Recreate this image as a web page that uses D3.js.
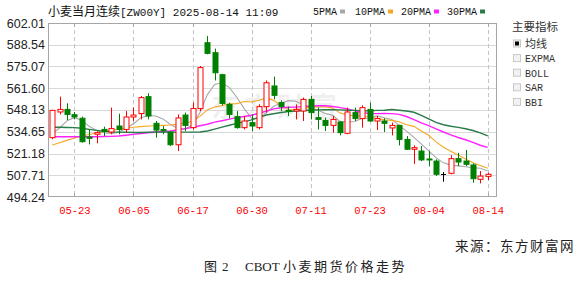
<!DOCTYPE html>
<html><head><meta charset="utf-8">
<script src="https://cdn.jsdelivr.net/npm/d3@7/dist/d3.min.js"></script>
<style>html,body{margin:0;padding:0;background:#fff;}svg{display:block;}</style>
</head><body>
<svg id="c" width="580" height="300"></svg>
<script>
const dates=["05-20","05-21","05-22","05-23","05-27","05-28","05-29","05-30","06-02","06-03","06-04","06-05","06-06","06-09","06-10","06-11","06-12","06-13","06-16","06-17","06-18","06-20","06-23","06-24","06-25","06-26","06-27","06-30","07-01","07-02","07-03","07-07","07-08","07-09","07-10","07-11","07-14","07-15","07-16","07-17","07-18","07-21","07-22","07-23","07-24","07-25","07-28","07-29","07-30","07-31","08-01","08-04","08-05","08-06","08-07","08-08","08-11","08-12","08-13","08-14"];
const open=[531.0,546.9,548.5,545.2,543.0,531.4,533.1,536.1,534.5,538.2,536.1,543.8,545.9,556.4,539.9,536.0,534.5,526.6,545.0,537.2,549.0,589.8,583.6,570.0,551.6,544.0,537.2,540.3,537.2,550.2,563.0,552.7,547.9,547.5,547.5,554.7,543.4,541.7,538.6,540.7,533.7,546.5,542.8,548.5,541.3,541.3,537.0,538.6,529.9,523.8,522.7,517.8,516.5,508.3,508.9,518.0,516.5,514.1,505.2,507.0];
const high=[548.2,556.4,552.3,546.9,544.0,536.1,534.9,537.8,549.6,545.8,547.5,549.6,556.8,558.5,541.3,538.2,535.1,545.4,546.5,552.7,575.4,594.0,586.1,570.6,552.7,547.5,544.4,545.4,551.6,566.4,568.8,554.1,550.2,551.6,555.8,556.8,549.6,543.4,544.4,541.3,549.6,549.6,551.0,552.7,544.4,543.0,540.3,539.0,532.0,526.2,525.8,522.7,517.6,509.7,520.1,521.6,523.4,515.1,510.3,509.3];
const low=[530.0,545.4,541.9,542.3,527.9,526.8,527.5,532.0,533.1,533.1,534.1,541.3,542.3,542.3,531.0,533.1,525.8,522.7,535.1,536.1,547.5,582.6,566.4,551.0,542.8,536.6,536.1,535.1,536.1,546.5,554.7,547.5,544.4,542.3,541.3,542.3,536.1,535.1,534.1,532.4,533.1,541.3,537.2,540.9,535.7,534.5,532.4,526.2,523.4,514.7,516.5,513.4,507.2,503.7,508.3,513.4,513.4,503.1,502.7,504.7];
const close=[547.9,548.5,545.4,543.8,528.5,530.6,534.1,534.9,536.6,536.1,543.8,545.0,555.8,544.4,535.7,535.3,526.6,543.2,538.6,549.0,574.4,583.2,571.2,552.2,545.4,537.2,541.3,538.2,550.2,565.0,557.2,550.2,547.3,548.5,554.7,546.5,542.3,538.6,542.3,534.1,546.9,542.8,549.6,541.3,542.8,539.9,538.6,529.9,523.8,524.8,517.2,517.2,508.3,508.3,518.0,515.9,514.5,505.6,507.2,508.3];
const ma5=[533.5,537.0,541.5,543.4,541.8,538.0,535.5,534.0,533.4,534.4,536.8,539.6,543.3,544.7,544.4,542.6,539.2,536.8,536.2,539.0,546.4,557.5,564.0,565.0,562.0,556.0,549.0,543.0,542.6,546.4,550.4,552.3,553.9,553.5,551.6,549.5,547.9,546.0,544.8,540.9,540.8,541.0,543.0,543.0,544.5,543.3,542.3,538.6,535.0,531.2,527.2,522.8,518.6,515.4,514.0,513.5,513.0,512.4,512.0,510.4];
const ma10=[526.5,527.9,529.3,530.8,532.2,533.0,533.9,534.7,535.5,536.2,536.8,537.4,537.8,538.2,538.4,538.6,538.8,539.2,539.9,541.2,544.2,548.2,550.0,550.9,551.9,552.1,553.4,553.1,554.2,555.6,554.1,550.8,548.4,548.1,549.0,549.9,550.0,550.1,549.3,546.2,545.1,544.4,544.6,543.9,542.7,542.1,541.7,540.8,539.0,538.0,535.1,532.5,528.4,525.1,522.6,520.2,517.8,515.4,513.7,512.1];
const ma20=[531.6,531.6,531.6,531.6,531.6,531.6,531.6,531.7,531.8,532.0,532.5,533.0,533.6,534.0,534.5,534.8,535.1,535.8,536.6,537.4,538.4,539.3,540.6,541.5,542.5,543.4,544.1,544.9,546.1,547.4,548.8,549.5,549.8,549.9,550.2,550.6,550.8,550.8,550.3,549.6,548.8,547.6,546.5,546.0,545.9,546.0,545.9,545.4,544.1,542.1,540.1,538.5,536.5,534.5,532.7,531.1,529.7,528.1,526.3,525.0];
const ma30=[537.4,537.4,537.3,537.2,536.8,536.1,535.5,535.0,534.6,534.4,534.3,534.2,534.2,534.3,534.4,534.4,534.4,534.4,534.4,534.4,534.5,535.1,536.3,537.5,538.7,539.8,540.8,542.0,543.6,545.0,545.8,546.6,547.1,547.5,547.8,548.0,548.2,548.3,548.3,548.2,548.0,547.9,547.7,547.6,547.9,548.0,548.4,548.0,547.5,546.7,544.8,542.6,540.5,539.0,538.1,537.4,536.5,535.4,534.0,532.1];
const xTickLabels=["05-23","06-05","06-17","06-30","07-11","07-23","08-04","08-14"];
const yTickLabels=["494.24","507.71","521.18","534.65","548.13","561.60","575.07","588.54","602.01"];
const maNames=["5PMA","10PMA","20PMA","30PMA"];
const maColors=["#a8a8a8","#f5a623","#ff22ff","#2a7a4a"];
const indicators=["均线","EXPMA","BOLL","SAR","BBI"];

const svg=d3.select("#c");
const L=48,R=497,T=23,B=197;
const x=d3.scaleLinear().domain([-0.58,60.26]).range([L,R]);
const y=d3.scaleLinear().domain([494.24,602.01]).range([B,T]);
const yTicks=yTickLabels.map(Number);
const tickIdx=xTickLabels.map(s=>dates.indexOf(s));

// watermark
svg.append("text").attr("x",x(21.5)).attr("y",y(544)).attr("font-family","Noto Sans CJK SC").attr("font-weight","bold")
  .attr("font-size",27).attr("fill","#000").attr("fill-opacity",0.08).attr("letter-spacing",6).text("东方财富");

// horizontal grid
svg.append("g").selectAll("line").data(yTicks.slice(1,-1)).join("line")
  .attr("x1",L).attr("x2",R).attr("y1",d=>Math.round(y(d))+0.5).attr("y2",d=>Math.round(y(d))+0.5)
  .attr("stroke","#d9d9d9").attr("stroke-width",1);
// vertical dashed grid
svg.append("g").selectAll("line").data(tickIdx).join("line")
  .attr("x1",d=>Math.round(x(d))+0.5).attr("x2",d=>Math.round(x(d))+0.5).attr("y1",T).attr("y2",B)
  .attr("stroke","#c4c4c4").attr("stroke-dasharray","4,3");
// border
svg.append("rect").attr("x",L+0.5).attr("y",T+0.5).attr("width",R-L-1).attr("height",B-T-1)
  .attr("fill","none").attr("stroke","#a6a6a6");
// tick marks top & bottom
const tg=svg.append("g").attr("stroke","#a6a6a6");
tickIdx.forEach(d=>{const xx=Math.round(x(d))+0.5;
  tg.append("line").attr("x1",xx).attr("x2",xx).attr("y1",T).attr("y2",T+4);
  tg.append("line").attr("x1",xx).attr("x2",xx).attr("y1",B-4).attr("y2",B);});

// y labels
svg.append("g").selectAll("text").data(yTickLabels).join("text")
  .attr("x",45).attr("y",d=>y(+d)+4.5).attr("text-anchor","end")
  .attr("font-family","Liberation Sans, Arial").attr("font-size",12.5).attr("fill","#222").text(d=>d);
// x labels
svg.append("g").selectAll("text").data(xTickLabels).join("text")
  .attr("x",d=>x(dates.indexOf(d))+0.5).attr("y",214).attr("text-anchor","middle")
  .attr("font-family","Liberation Mono, DejaVu Sans Mono").attr("font-size",10.5).attr("fill","#ff0000").text(d=>d);

// MA lines
const maData=[ma5,ma10,ma20,ma30];
const line=d3.line().x((d,i)=>x(i)).y(d=>y(d));
maData.forEach((arr,k)=>{
  svg.append("path").datum(arr).attr("d",line).attr("fill","none")
    .attr("stroke",maColors[k]).attr("stroke-width",k>=2?1.4:1.1);
});

// candles
const cg=svg.append("g");
dates.forEach((d,i)=>{
  const o=open[i],c=close[i],h=high[i],l=low[i];
  const col=c>o?"#ff0000":(c<o?"#008000":"#000000");
  const cx=Math.round(x(i))+0.5;
  cg.append("line").attr("x1",cx).attr("x2",cx).attr("y1",y(h)).attr("y2",y(l)).attr("stroke",col);
  const top=y(Math.max(o,c)),bot=y(Math.min(o,c));
  if(c===o){
    cg.append("line").attr("x1",cx-2.5).attr("x2",cx+2.5).attr("y1",Math.round(top)+0.5).attr("y2",Math.round(top)+0.5).attr("stroke",col);
  } else if(c>o){
    cg.append("rect").attr("x",cx-2.5).attr("y",top).attr("width",5).attr("height",Math.max(1,bot-top))
      .attr("fill","#fff").attr("stroke",col);
  } else {
    cg.append("rect").attr("x",cx-2.5).attr("y",top).attr("width",5).attr("height",Math.max(1,bot-top))
      .attr("fill",col).attr("stroke",col);
  }
});

// title
const tt=svg.append("text").attr("x",48).attr("y",16).attr("fill","#111");
tt.append("tspan").attr("font-family","Noto Sans CJK SC").attr("font-size",12).text("小麦当月连续");
tt.append("tspan").attr("font-family","Liberation Mono, DejaVu Sans Mono").attr("font-size",11).text("[ZW00Y] 2025-08-14 11:09");

// legend
const legX=[313,355,401,447];
maNames.forEach((n,k)=>{
  const t=svg.append("text").attr("x",legX[k]).attr("y",15).attr("font-family","Liberation Mono, DejaVu Sans Mono")
    .attr("font-size",10).attr("fill","#111").text(n);
  const w=t.node().getComputedTextLength();
  svg.append("rect").attr("x",legX[k]+w+3).attr("y",9.5).attr("width",5).attr("height",4).attr("fill",maColors[k]);
});

// right panel
svg.append("text").attr("x",512).attr("y",31).attr("font-family","Noto Sans CJK SC").attr("font-size",11.5).attr("fill","#333").text("主要指标");
indicators.forEach((n,k)=>{
  const cy=43.5+k*14.6;
  svg.append("rect").attr("x",513.5).attr("y",cy-3.5).attr("width",7).attr("height",7)
    .attr("fill","#f2f2f2").attr("stroke","#c8c8c8");
  if(k===0) svg.append("rect").attr("x",515).attr("y",cy-2).attr("width",4).attr("height",4).attr("fill","#000");
  svg.append("text").attr("x",525).attr("y",cy+4)
    .attr("font-family",k===0?"Noto Sans CJK SC":"Liberation Mono, DejaVu Sans Mono")
    .attr("font-size",k===0?11:10).attr("fill","#333").text(n);
});

// source
svg.append("text").attr("x",575).attr("y",251).attr("text-anchor","end").attr("font-family","Noto Sans CJK SC")
  .attr("font-size",13.5).attr("fill","#222").attr("letter-spacing",1.5).text("来源：东方财富网");
// caption
const cap=svg.append("text").attr("y",271).attr("font-size",13).attr("fill","#222");
cap.append("tspan").attr("x",204).attr("font-family","Noto Sans CJK SC").text("图");
cap.append("tspan").attr("x",222).attr("font-family","Liberation Serif").text("2");
cap.append("tspan").attr("x",245).attr("font-family","Liberation Serif").text("CBOT");
cap.append("tspan").attr("x",283).attr("font-family","Noto Sans CJK SC").attr("letter-spacing",2.5).text("小麦期货价格走势");
</script>
</body></html>
